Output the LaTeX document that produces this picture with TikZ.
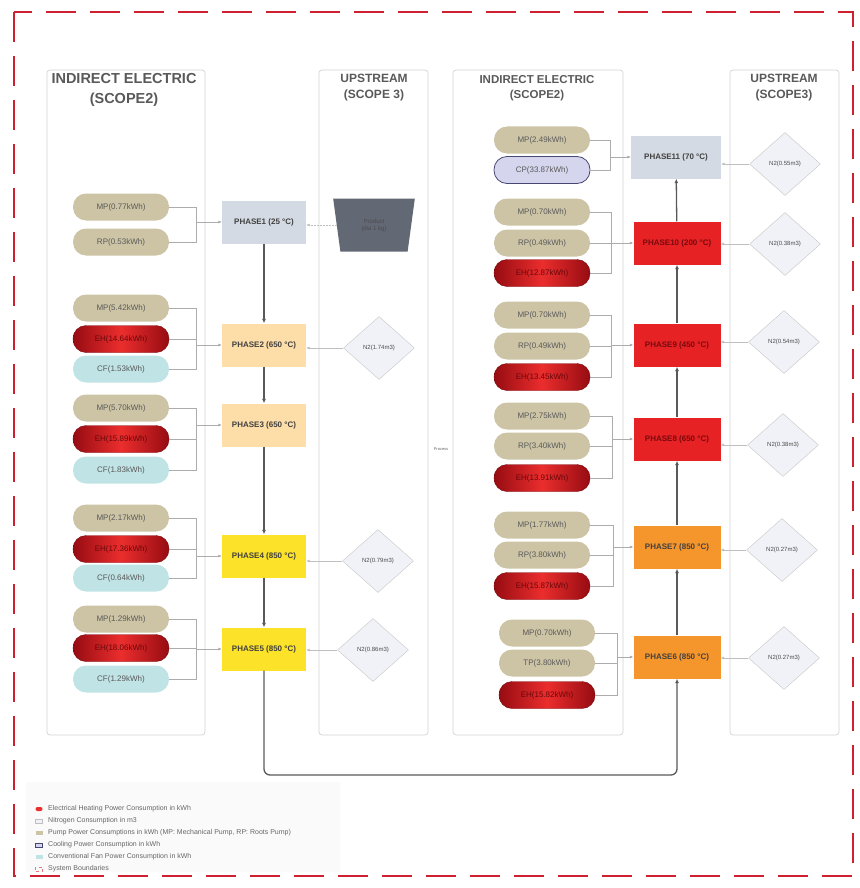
\documentclass[tikz,border=0pt]{standalone}
\usepackage{fontspec}
\setmainfont{Liberation Sans}
\usetikzlibrary{shapes.geometric}
\usetikzlibrary{arrows.meta}

\definecolor{sand}{RGB}{205,196,166}
\definecolor{ice}{RGB}{192,227,229}
\definecolor{lilac}{RGB}{214,213,238}
\definecolor{lilacdk}{RGB}{72,70,115}
\definecolor{heatdk}{RGB}{150,12,18}
\definecolor{heatlt}{RGB}{235,45,45}
\definecolor{steel}{RGB}{212,218,227}
\definecolor{peach}{RGB}{253,221,168}
\definecolor{lemon}{RGB}{252,226,40}
\definecolor{hot}{RGB}{230,34,36}
\definecolor{amber}{RGB}{245,150,45}
\definecolor{mist}{RGB}{240,242,247}
\definecolor{slate}{RGB}{98,104,116}
\definecolor{bound}{RGB}{206,32,48}

\begin{document}
\begin{tikzpicture}[x=1pt,y=-1pt,
  pill/.style={rectangle,rounded corners=13pt,minimum width=96pt,minimum height=27pt,inner sep=1pt,font=\fontsize{8}{9}\selectfont,text=black!65},
  mp/.style={pill,fill=sand},
  cf/.style={pill,fill=ice},
  cp/.style={pill,fill=lilac,draw=lilacdk,line width=0.8pt},
  eh/.style={pill,left color=heatdk,right color=heatdk,middle color=heatlt,draw=heatdk!80!black,line width=0.4pt,text=heatdk!70!black},
  phase/.style={rectangle,minimum width=84pt,minimum height=43pt,inner sep=1pt,font=\fontsize{8}{9}\selectfont\bfseries,text=black!75},
  gas/.style={diamond,draw=gray!45,fill=mist,minimum width=71pt,minimum height=63pt,inner sep=0pt,font=\fontsize{6}{7}\selectfont,text=black!70},
  lane/.style={draw=gray!35,line width=0.7pt,rounded corners=3pt},
  head/.style={align=center,text=black!65},
  feed/.style={draw=gray!65,line width=0.5pt},
  feedin/.style={feed,-{Latex[length=3.5pt,width=3pt]}},
  gasin/.style={draw=gray!50,line width=0.5pt,-{Latex[length=3.5pt,width=3pt]}},
  flow/.style={draw=black!65,line width=1.3pt,-{Latex[length=4.5pt,width=4pt]}},
  legkey/.style={rectangle,minimum width=7pt,minimum height=4pt,inner sep=0pt},
  legtext/.style={anchor=west,font=\fontsize{7}{8}\selectfont,text=black!60,inner sep=0pt},
]
\useasboundingbox (0,0) rectangle (859,888);

% system boundary and lanes
\draw[bound,line width=2.6pt,dash pattern=on 30pt off 14pt] (14,12) rectangle (853,876);
\draw[lane] (47,70) rectangle (205,735);
\draw[lane] (319,70) rectangle (428,735);
\draw[lane] (453,70) rectangle (623,735);
\draw[lane] (730,70) rectangle (839,735);

\node[head,font=\fontsize{14.5}{20}\selectfont\bfseries] (hd1) at (124,90) {INDIRECT ELECTRIC\\(SCOPE2)};
\node[head,font=\fontsize{12}{16}\selectfont\bfseries] (hd2) at (374,88) {UPSTREAM\\(SCOPE 3)};
\node[head,font=\fontsize{11.5}{15.5}\selectfont\bfseries] (hd3) at (537,88) {INDIRECT ELECTRIC\\(SCOPE2)};
\node[head,font=\fontsize{12}{16}\selectfont\bfseries] (hd4) at (784,88) {UPSTREAM\\(SCOPE3)};
\node[font=\fontsize{4}{4}\selectfont,text=black!60] (pc) at (441,449) {Process};

% heating line
\node[phase,fill=steel] (ph1) at (264,222) {PHASE1 (25 °C)};
\node[phase,fill=peach] (ph2) at (264,345) {PHASE2 (650 °C)};
\node[phase,fill=peach] (ph3) at (264,425) {PHASE3 (650 °C)};
\node[phase,fill=lemon] (ph4) at (264,556) {PHASE4 (850 °C)};
\node[phase,fill=lemon] (ph5) at (264,649) {PHASE5 (850 °C)};

% cooling line
\node[phase,fill=amber,minimum width=87pt] (ph6) at (677,657) {PHASE6 (850 °C)};
\node[phase,fill=amber,minimum width=87pt] (ph7) at (677,547) {PHASE7 (850 °C)};
\node[phase,fill=hot,minimum width=87pt,text=heatdk!80!black] (ph8) at (677,439) {PHASE8 (650 °C)};
\node[phase,fill=hot,minimum width=87pt,text=heatdk!80!black] (ph9) at (677,345) {PHASE9 (450 °C)};
\node[phase,fill=hot,minimum width=87pt,text=heatdk!80!black] (ph10) at (677,243) {PHASE10 (200 °C)};
\node[phase,fill=steel,minimum width=90pt] (ph11) at (676,157) {PHASE11 (70 °C)};

% left inputs
\node[mp] (mp1) at (121,207) {MP(0.77kWh)};
\node[mp] (rp1) at (121,242) {RP(0.53kWh)};
\node[mp] (mp2) at (121,308) {MP(5.42kWh)};
\node[eh] (eh2) at (121,339) {EH(14.64kWh)};
\node[cf] (cf2) at (121,369) {CF(1.53kWh)};
\node[mp] (mp3) at (121,408) {MP(5.70kWh)};
\node[eh] (eh3) at (121,439) {EH(15.89kWh)};
\node[cf] (cf3) at (121,470) {CF(1.83kWh)};
\node[mp] (mp4) at (121,518) {MP(2.17kWh)};
\node[eh] (eh4) at (121,549) {EH(17.36kWh)};
\node[cf] (cf4) at (121,578) {CF(0.64kWh)};
\node[mp] (mp5) at (121,619) {MP(1.29kWh)};
\node[eh] (eh5) at (121,648) {EH(18.06kWh)};
\node[cf] (cf5) at (121,679) {CF(1.29kWh)};

% right inputs
\node[mp] (mp11) at (542,140) {MP(2.49kWh)};
\node[cp] (cp11) at (542,170) {CP(33.87kWh)};
\node[mp] (mp10) at (542,212) {MP(0.70kWh)};
\node[mp] (rp10) at (542,243) {RP(0.49kWh)};
\node[eh] (eh10) at (542,273) {EH(12.87kWh)};
\node[mp] (mp9) at (542,315) {MP(0.70kWh)};
\node[mp] (rp9) at (542,346) {RP(0.49kWh)};
\node[eh] (eh9) at (542,377) {EH(13.45kWh)};
\node[mp] (mp8) at (542,416) {MP(2.75kWh)};
\node[mp] (rp8) at (542,446) {RP(3.40kWh)};
\node[eh] (eh8) at (542,478) {EH(13.91kWh)};
\node[mp] (mp7) at (542,525) {MP(1.77kWh)};
\node[mp] (rp7) at (542,555) {RP(3.80kWh)};
\node[eh] (eh7) at (542,586) {EH(15.87kWh)};
\node[mp] (mp6) at (547,633) {MP(0.70kWh)};
\node[mp] (tp6) at (547,663) {TP(3.80kWh)};
\node[eh] (eh6) at (547,695) {EH(15.82kWh)};

% upstream
\node[trapezium,trapezium angle=80,shape border rotate=180,trapezium stretches=true,fill=slate,minimum width=82pt,minimum height=53pt,align=center,font=\fontsize{6}{7}\selectfont,text=black!70] (pr) at (374,225) {Product\\(dia 1 kg)};
\node[gas] (nt2) at (379,348) {N2(1.74m3)};
\node[gas] (nt4) at (378,561) {N2(0.79m3)};
\node[gas] (nt5) at (373,650) {N2(0.86m3)};
\node[gas] (nt11) at (785,164) {N2(0.55m3)};
\node[gas] (nt10) at (785,244) {N2(0.38m3)};
\node[gas] (nt9) at (784,342) {N2(0.54m3)};
\node[gas] (nt8) at (783,445) {N2(0.38m3)};
\node[gas] (nt7) at (782,550) {N2(0.27m3)};
\node[gas] (nt6) at (784,658) {N2(0.27m3)};

% bracket joints
\coordinate (j1) at (196,222);
\coordinate (j2) at (196,345);
\coordinate (j3) at (196,425);
\coordinate (j4) at (196,556);
\coordinate (j5) at (196,649);
\coordinate (j11) at (610,157);
\coordinate (j10) at (611,243);
\coordinate (j9) at (611,345);
\coordinate (j8) at (612,439);
\coordinate (j7) at (613,547);
\coordinate (j6) at (617,657);

\draw[feed] (mp1.east) -| (j1);
\draw[feed] (rp1.east) -| (j1);
\draw[feedin] (j1) -- (ph1);
\draw[feed] (mp2.east) -| (j2);
\draw[feed] (eh2.east) -| (j2);
\draw[feed] (cf2.east) -| (j2);
\draw[feedin] (j2) -- (ph2);
\draw[feed] (mp3.east) -| (j3);
\draw[feed] (eh3.east) -| (j3);
\draw[feed] (cf3.east) -| (j3);
\draw[feedin] (j3) -- (ph3);
\draw[feed] (mp4.east) -| (j4);
\draw[feed] (eh4.east) -| (j4);
\draw[feed] (cf4.east) -| (j4);
\draw[feedin] (j4) -- (ph4);
\draw[feed] (mp5.east) -| (j5);
\draw[feed] (eh5.east) -| (j5);
\draw[feed] (cf5.east) -| (j5);
\draw[feedin] (j5) -- (ph5);

\draw[feed] (mp11.east) -| (j11);
\draw[feed] (cp11.east) -| (j11);
\draw[feedin] (j11) -- (ph11);
\draw[feed] (mp10.east) -| (j10);
\draw[feed] (rp10.east) -| (j10);
\draw[feed] (eh10.east) -| (j10);
\draw[feedin] (j10) -- (ph10);
\draw[feed] (mp9.east) -| (j9);
\draw[feed] (rp9.east) -| (j9);
\draw[feed] (eh9.east) -| (j9);
\draw[feedin] (j9) -- (ph9);
\draw[feed] (mp8.east) -| (j8);
\draw[feed] (rp8.east) -| (j8);
\draw[feed] (eh8.east) -| (j8);
\draw[feedin] (j8) -- (ph8);
\draw[feed] (mp7.east) -| (j7);
\draw[feed] (rp7.east) -| (j7);
\draw[feed] (eh7.east) -| (j7);
\draw[feedin] (j7) -- (ph7);
\draw[feed] (mp6.east) -| (j6);
\draw[feed] (tp6.east) -| (j6);
\draw[feed] (eh6.east) -| (j6);
\draw[feedin] (j6) -- (ph6);

\draw[gasin,densely dotted] (pr.west) -- (pr.west -| ph1.east);
\draw[gasin] (nt2.west) -- (nt2.west -| ph2.east);
\draw[gasin] (nt4.west) -- (nt4.west -| ph4.east);
\draw[gasin] (nt5.west) -- (nt5.west -| ph5.east);
\draw[gasin] (nt11.west) -- (nt11.west -| ph11.east);
\draw[gasin] (nt10.west) -- (nt10.west -| ph10.east);
\draw[gasin] (nt9.west) -- (nt9.west -| ph9.east);
\draw[gasin] (nt8.west) -- (nt8.west -| ph8.east);
\draw[gasin] (nt7.west) -- (nt7.west -| ph7.east);
\draw[gasin] (nt6.west) -- (nt6.west -| ph6.east);

% main flow
\coordinate (lp1) at (264,775);
\coordinate (lp2) at (677,775);
\draw[flow] (ph1) -- (ph2);
\draw[flow] (ph2) -- (ph3);
\draw[flow] (ph3) -- (ph4);
\draw[flow] (ph4) -- (ph5);
\draw[flow,rounded corners=6pt] (ph5) -- (lp1) -- (lp2) -- (ph6);
\draw[flow] (ph6) -- (ph7);
\draw[flow] (ph7) -- (ph8);
\draw[flow] (ph8) -- (ph9);
\draw[flow] (ph9) -- (ph10);
\draw[flow] (ph10) -- (ph11);

% legend
\fill[gray!4] (26,782) rectangle (340,872);
\node[legkey,fill=heatlt,rounded corners=2pt] (k1) at (39,809) {};
\node[legtext] (t1) at (48,809) {Electrical Heating Power Consumption in kWh};
\node[legkey,fill=mist,draw=gray!50,line width=0.3pt] (k2) at (39,821) {};
\node[legtext] (t2) at (48,821) {Nitrogen Consumption in m3};
\node[legkey,fill=sand] (k3) at (39,833) {};
\node[legtext] (t3) at (48,833) {Pump Power Consumptions in kWh (MP: Mechanical Pump, RP: Roots Pump)};
\node[legkey,fill=lilac,draw=lilacdk,line width=0.3pt] (k4) at (39,845) {};
\node[legtext] (t4) at (48,845) {Cooling Power Consumption in kWh};
\node[legkey,fill=ice] (k5) at (39,857) {};
\node[legtext] (t5) at (48,857) {Conventional Fan Power Consumption in kWh};
\node[legkey,draw=bound!60,dashed,line width=0.3pt] (k6) at (39,869) {};
\node[legtext] (t6) at (48,869) {System Boundaries};
\end{tikzpicture}
\end{document}
